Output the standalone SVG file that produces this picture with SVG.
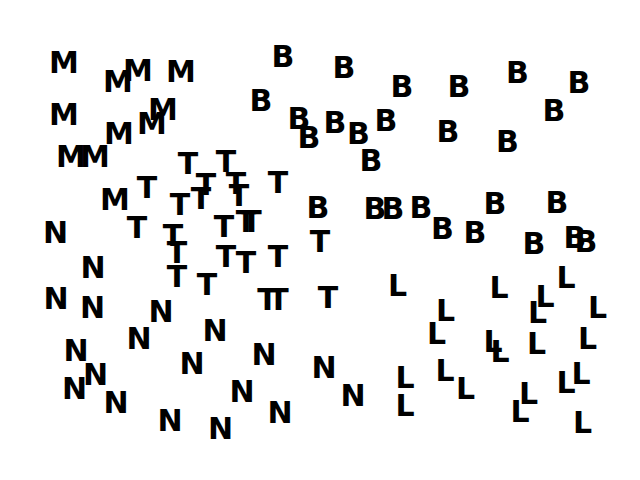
<svg xmlns="http://www.w3.org/2000/svg" width="640" height="480" viewBox="0 0 640 480">
<style>
text{font-family:"DejaVu Sans","Liberation Sans",sans-serif;font-weight:bold;font-size:30px;fill:#000;text-anchor:middle}
</style>
<rect width="640" height="480" fill="#fff"/>
<g id="M">
<text x="64" y="73">M</text><text x="118" y="92">M</text><text x="138" y="81">M</text><text x="181" y="82">M</text>
<text x="64" y="125">M</text><text x="152" y="134">M</text><text x="163" y="120">M</text><text x="119" y="144">M</text>
<text x="71" y="167">M</text><text x="95" y="167">M</text><text x="115" y="210">M</text>
</g>
<g id="B">
<text x="283" y="67">B</text><text x="344" y="78">B</text><text x="402" y="97">B</text><text x="261" y="111">B</text>
<text x="299" y="129">B</text><text x="309" y="148">B</text><text x="335" y="133">B</text><text x="358.5" y="144">B</text>
<text x="386" y="131">B</text><text x="371" y="171">B</text><text x="318" y="218">B</text><text x="375" y="219">B</text>
<text x="393" y="219">B</text><text x="421" y="218">B</text><text x="459" y="97">B</text><text x="517.5" y="83">B</text>
<text x="579" y="93">B</text><text x="554" y="121">B</text><text x="448" y="142">B</text><text x="507.5" y="152">B</text>
<text x="495" y="214">B</text><text x="557" y="213">B</text><text x="442.5" y="239">B</text><text x="475" y="243">B</text>
<text x="534" y="254">B</text><text x="575" y="248">B</text><text x="586" y="252">B</text>
</g>
<g id="T">
<text x="188" y="174">T</text><text x="226" y="172">T</text><text x="206" y="195">T</text><text x="201" y="209">T</text>
<text x="236" y="194">T</text><text x="239" y="206">T</text><text x="278" y="193">T</text><text x="147" y="198">T</text>
<text x="180" y="215">T</text><text x="137" y="238">T</text><text x="173" y="246">T</text><text x="177" y="263">T</text>
<text x="177" y="287">T</text><text x="224" y="237">T</text><text x="246" y="232">T</text><text x="251.5" y="232">T</text>
<text x="226" y="267">T</text><text x="246" y="273">T</text><text x="278" y="267">T</text><text x="207" y="295">T</text>
<text x="267.5" y="310">T</text><text x="278.5" y="310">T</text><text x="328" y="308">T</text><text x="320" y="252">T</text>
</g>
<g id="N">
<text x="55.5" y="243">N</text><text x="93" y="278">N</text><text x="56" y="309">N</text><text x="92.5" y="318">N</text>
<text x="161" y="322">N</text><text x="215" y="341">N</text><text x="139" y="349">N</text><text x="76" y="361">N</text>
<text x="192" y="374">N</text><text x="95.5" y="385">N</text><text x="74.5" y="399">N</text><text x="116" y="413">N</text>
<text x="170" y="431">N</text><text x="220.5" y="439">N</text><text x="264" y="365">N</text><text x="324" y="378">N</text>
<text x="242" y="402">N</text><text x="353" y="406">N</text><text x="280" y="423">N</text>
</g>
<g id="L">
<text x="397.5" y="296">L</text><text x="499" y="298">L</text><text x="566" y="288">L</text><text x="545" y="307">L</text>
<text x="445.5" y="321">L</text><text x="537.5" y="323">L</text><text x="597.5" y="318">L</text><text x="436.5" y="344">L</text>
<text x="493" y="352">L</text><text x="500" y="362">L</text><text x="536.5" y="354">L</text><text x="587.5" y="349">L</text>
<text x="405" y="388">L</text><text x="445" y="381">L</text><text x="465.5" y="399">L</text><text x="581" y="384">L</text>
<text x="566" y="393">L</text><text x="528.5" y="404">L</text><text x="405" y="416">L</text><text x="520" y="422">L</text>
<text x="582.5" y="433">L</text>
</g>
<g id="connectors"/>
</svg>
